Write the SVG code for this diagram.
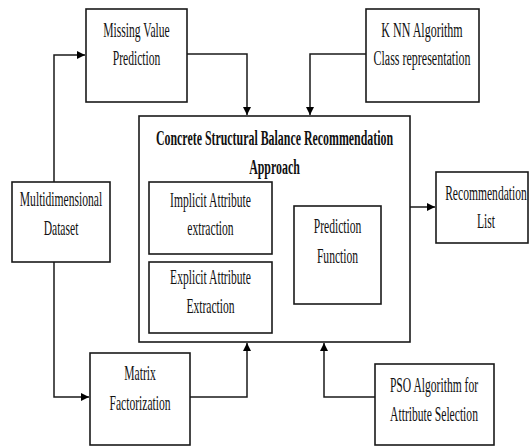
<svg xmlns="http://www.w3.org/2000/svg" width="530" height="446" viewBox="0 0 530 446">
<defs>
<style>
.box{fill:#fff;stroke:#1a1a1a;stroke-width:1.6}
.ln{fill:none;stroke:#1a1a1a;stroke-width:1.5}
text{font-family:"Liberation Serif","Times New Roman",serif;font-size:20px;fill:#111;text-anchor:middle}
.b{font-weight:bold}
</style>
<marker id="ah" viewBox="0 0 10 10" refX="10" refY="5" markerWidth="8" markerHeight="8" markerUnits="userSpaceOnUse" orient="auto">
<path d="M0,0 L10,5 L0,10 z" fill="#000"/>
</marker>
</defs>
<rect width="530" height="446" fill="#fff"/>
<g id="connectors">
<polyline class="ln" points="54,182 54,55 85,55" marker-end="url(#ah)"/>
<polyline class="ln" points="54,262 54,397 89,397" marker-end="url(#ah)"/>
<polyline class="ln" points="187,54 247,54 247,115" marker-end="url(#ah)"/>
<polyline class="ln" points="366,54 310,54 310,115" marker-end="url(#ah)"/>
<polyline class="ln" points="410,207 435,207" marker-end="url(#ah)"/>
<polyline class="ln" points="190,397 247,397 247,343" marker-end="url(#ah)"/>
<polyline class="ln" points="375,397 324,397 324,343" marker-end="url(#ah)"/>
</g>
<g id="missing-value">
<rect class="box" x="86" y="9" width="101" height="93"/>
<g transform="translate(136.5 0) scale(0.58 1)">
<text x="0" y="37">Missing Value</text>
<text x="0" y="65">Prediction</text>
</g>
</g>
<g id="knn">
<rect class="box" x="366" y="9" width="113" height="93"/>
<g transform="translate(422 0) scale(0.6 1)">
<text x="0" y="37">K NN Algorithm</text>
<text x="0" y="65">Class representation</text>
</g>
</g>
<g id="main">
<rect class="box" x="139" y="116" width="271" height="226"/>
<g transform="translate(274.5 0) scale(0.595 1)">
<text class="b" x="0" y="145">Concrete Structural Balance Recommendation</text>
<text class="b" x="0" y="174">Approach</text>
</g>
</g>
<g id="implicit">
<rect class="box" x="149" y="182" width="123" height="72"/>
<g transform="translate(210.5 0) scale(0.58 1)">
<text x="0" y="207">Implicit Attribute</text>
<text x="0" y="235">extraction</text>
</g>
</g>
<g id="explicit">
<rect class="box" x="149" y="262" width="123" height="71"/>
<g transform="translate(210.5 0) scale(0.58 1)">
<text x="0" y="284">Explicit Attribute</text>
<text x="0" y="313">Extraction</text>
</g>
</g>
<g id="prediction-function">
<rect class="box" x="294" y="206" width="87" height="98"/>
<g transform="translate(337.5 0) scale(0.58 1)">
<text x="0" y="233">Prediction</text>
<text x="0" y="263">Function</text>
</g>
</g>
<g id="multidimensional">
<rect class="box" x="12" y="182" width="98" height="80"/>
<g transform="translate(61 0) scale(0.58 1)">
<text x="0" y="206">Multidimensional</text>
<text x="0" y="235">Dataset</text>
</g>
</g>
<g id="recommendation-list">
<rect class="box" x="436" y="172" width="92" height="71"/>
<g transform="translate(486 0) scale(0.58 1)">
<text x="0" y="200">Recommendation</text>
<text x="0" y="228">List</text>
</g>
</g>
<g id="matrix-factorization">
<rect class="box" x="90" y="353" width="100" height="92"/>
<g transform="translate(140 0) scale(0.58 1)">
<text x="0" y="380">Matrix</text>
<text x="0" y="410">Factorization</text>
</g>
</g>
<g id="pso">
<rect class="box" x="375" y="364" width="119" height="81"/>
<g transform="translate(434 0) scale(0.58 1)">
<text x="0" y="392">PSO Algorithm for</text>
<text x="0" y="421">Attribute Selection</text>
</g>
</g>
</svg>
